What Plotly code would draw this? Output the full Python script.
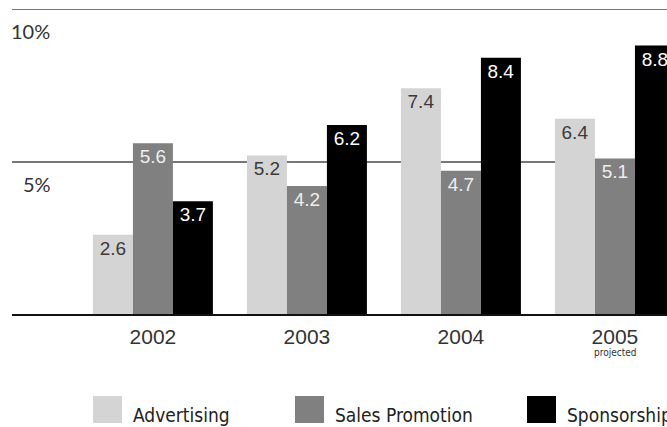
import plotly.graph_objects as go

years = ["2002", "2003", "2004", "2005"]
year_notes = ["", "", "", "projected"]
series_names = ["Advertising", "Sales Promotion", "Sponsorship"]
advertising = [2.6, 5.2, 7.4, 6.4]
sales_promotion = [5.6, 4.2, 4.7, 5.1]
sponsorship = [3.7, 6.2, 8.4, 8.8]
series_values = [advertising, sales_promotion, sponsorship]
y_ticks = [5, 10]
y_tick_labels = ["5%", "10%"]

colors = ["#d4d4d4", "#808080", "#000000"]
text_colors = ["#3a3a3a", "#eeeeee", "#ffffff"]

fig = go.Figure()
for name, vals, c, tc in zip(series_names, series_values, colors, text_colors):
    fig.add_trace(go.Bar(
        x=list(range(len(years))), y=vals, name=name,
        marker=dict(color=c, line=dict(width=0)),
        text=[f"{v:.1f}" for v in vals],
        textposition="inside", insidetextanchor="end",
        textangle=0, constraintext="none",
        textfont=dict(family="Liberation Sans, Arial, sans-serif", size=19, color=tc),
        showlegend=False,
    ))

fig.update_layout(
    width=667, height=427,
    margin=dict(l=12, r=0, t=9, b=113),
    paper_bgcolor="white", plot_bgcolor="white",
    barmode="group", bargap=0.221, bargroupgap=0,
    showlegend=False,
    xaxis=dict(
        range=[-0.915, 3.338], tickvals=list(range(len(years))), ticktext=years,
        showgrid=False, zeroline=False, showline=True, linecolor="#111111", linewidth=2,
        ticks="", tickfont=dict(family="Liberation Sans, Arial, sans-serif", size=21, color="#333333"),
        ticklabelstandoff=3,
    ),
    yaxis=dict(
        range=[0, 10], tickvals=y_ticks, showticklabels=False,
        showgrid=True, gridcolor="#777777", gridwidth=1.5, zeroline=False,
    ),
)

for i, note in enumerate(year_notes):
    if note:
        fig.add_annotation(xref="x", yref="paper", x=i, y=-(352 - 314) / 305,
                           text=note, showarrow=False, xanchor="center", yanchor="middle",
                           font=dict(family="Liberation Sans Narrow, DejaVu Sans Condensed, sans-serif",
                                     size=10, color="#333333"))

# top line at 10% drawn a bit heavier
fig.add_shape(type="line", xref="paper", yref="y", x0=0, x1=1, y0=10, y1=10,
              line=dict(color="#777777", width=2))

for t, lab in zip(y_ticks, y_tick_labels):
    fig.add_annotation(
        xref="paper", yref="y", x=0, y=t, text=lab, showarrow=False,
        xanchor="left", yanchor="top", xshift=(-3 if t == 10 else 9), yshift=-8,
        font=dict(family="Lato, Liberation Sans, sans-serif", size=20, color="#333333"),
    )

# manual legend with large swatches
leg_x = [93, 295, 527]
for name, c, x0 in zip(series_names, colors, leg_x):
    fig.add_shape(type="rect", xref="paper", yref="paper",
                  x0=(x0 - 12) / 655, x1=(x0 + 29 - 12) / 655,
                  y0=-(423 - 314) / 305, y1=-(396 - 314) / 305,
                  fillcolor=c, line=dict(width=0))
    fig.add_annotation(xref="paper", yref="paper",
                       x=(x0 + 38 - 12) / 655, y=-(415 - 314) / 305,
                       text=name, showarrow=False, xanchor="left", yanchor="middle",
                       font=dict(family="Liberation Sans Narrow, DejaVu Sans Condensed, sans-serif",
                                 size=19, color="#222222"))

fig.write_html("out.html")
